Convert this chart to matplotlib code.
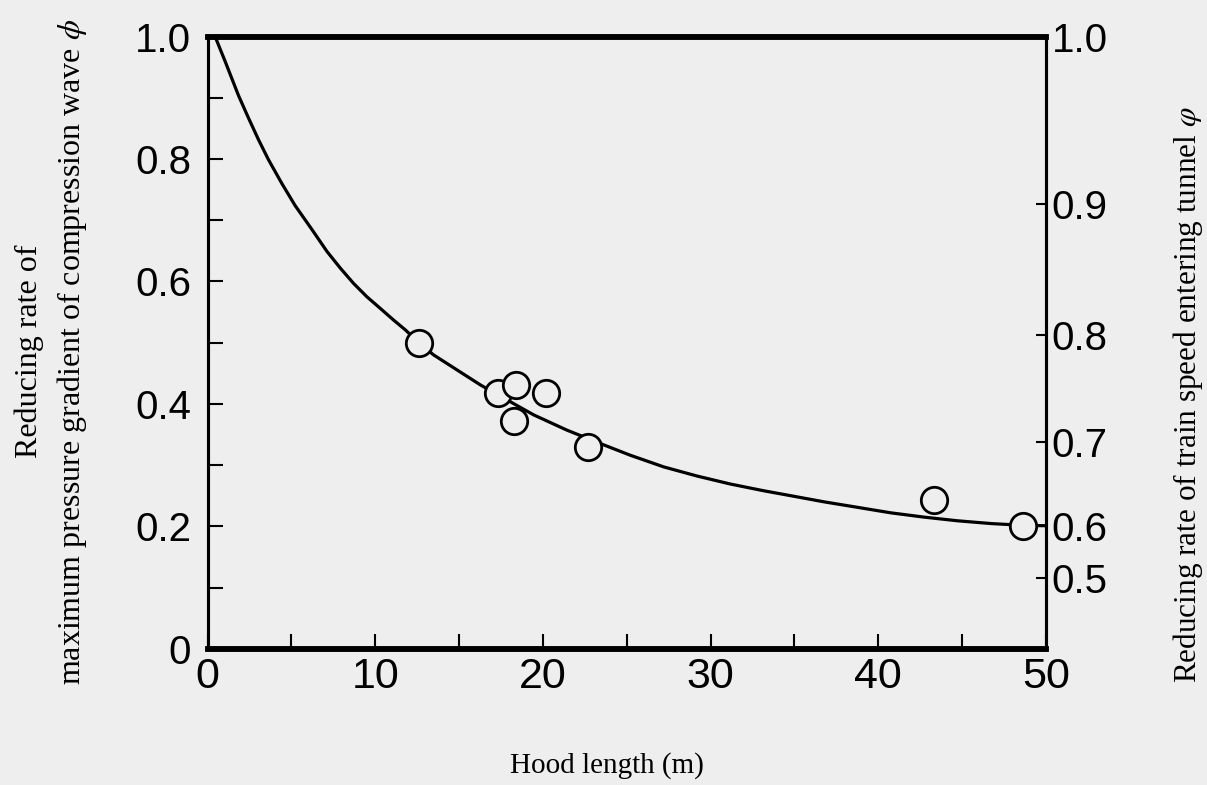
# reducing rate vs hood length, with the train-speed scale on the right
import numpy as np
import matplotlib.pyplot as plt

plt.rcParams['mathtext.fontset'] = 'stix'

# measured points (hood length m, reducing rate phi)
hood_len = [12.6, 17.3, 18.4, 18.3, 20.2, 22.7, 43.3, 48.6]
phi_pts = [0.500, 0.417, 0.431, 0.372, 0.418, 0.330, 0.243, 0.201]

# fitted curve
curve_x = [0.45, 1.04, 1.44, 1.84, 2.44, 3.03, 3.63, 4.43, 5.22, 6.22, 7.12,
           7.91, 8.70, 9.50, 10.30, 11.09, 11.79, 12.6, 13.48, 16.27, 19.45,
           21.44, 23.63, 25.22, 27.21, 29.21, 31.19, 33.18, 34.78, 36.76,
           38.76, 40.75, 42.73, 44.73, 46.72, 48.69, 50.0]
curve_y = [1.0, 0.960, 0.932, 0.904, 0.867, 0.832, 0.799, 0.760, 0.724, 0.685,
           0.649, 0.622, 0.597, 0.575, 0.556, 0.537, 0.521, 0.500, 0.480,
           0.431, 0.382, 0.357, 0.333, 0.316, 0.297, 0.282, 0.269, 0.258,
           0.2500, 0.240, 0.231, 0.222, 0.2150, 0.2090, 0.2045, 0.2015, 0.201]

# right hand scale: speed ratio labels and where they sit on the left scale
speed_labels = ['1.0', '0.9', '0.8', '0.7', '0.6', '0.5']
speed_pos = [1.0, 0.726, 0.513, 0.338, 0.201, 0.115]

bg = '#eeeeee'
fig = plt.figure(figsize=(12.07, 7.85), dpi=100, facecolor=bg)
ax = fig.add_axes([0.172, 0.1736, 0.6946, 0.7797])
ax.set_facecolor(bg)

ax.plot(curve_x, curve_y, color='black', lw=2.3, zorder=2,
        solid_joinstyle='round', clip_on=False)
ax.plot(hood_len, phi_pts, 'o', ms=19, mfc=bg, mec='black', mew=2.0,
        zorder=3, clip_on=False)

ax.set_xlim(0, 50)
ax.set_ylim(0, 1.0)
ax.set_xticks([0, 10, 20, 30, 40, 50])
ax.set_xticks(np.arange(0, 51, 5), minor=True)
ax.set_yticks([0, 0.2, 0.4, 0.6, 0.8, 1.0])
ax.set_yticklabels(['0', '0.2', '0.4', '0.6', '0.8', '1.0'])
ax.set_yticks(np.arange(0, 1.01, 0.1), minor=True)
ax.set_xticklabels(['0', '10', '20', '30', '40', '50'])

ax.tick_params(which='both', direction='in', width=1.5, top=False, right=False)
ax.tick_params(axis='y', which='both', length=11, pad=12)
ax.tick_params(axis='x', which='both', length=11, pad=6)
for lab in ax.get_yticklabels():
    lab.set_family('Liberation Sans')
    lab.set_fontsize(29)
for lab in ax.get_xticklabels():
    lab.set_family('Liberation Sans')
    lab.set_fontsize(31)

ax2 = ax.twinx()
ax2.set_ylim(0, 1.0)
ax2.set_yticks(speed_pos)
ax2.set_yticklabels(speed_labels)
ax2.tick_params(direction='in', length=7, width=1.5, pad=4)
for lab in ax2.get_yticklabels():
    lab.set_family('Liberation Sans')
    lab.set_fontsize(29)

for a in (ax, ax2):
    a.spines['top'].set_linewidth(4)
    a.spines['bottom'].set_linewidth(4)
    a.spines['left'].set_linewidth(2.2)
    a.spines['right'].set_linewidth(2.2)

fig.text(0.043, 0.552, 'Reducing rate of\nmaximum pressure gradient of compression wave $\\phi$',
         rotation=90, ha='center', va='center', multialignment='center',
         family='Liberation Serif', fontsize=23, linespacing=1.45)
fig.text(0.984, 0.497, 'Reducing rate of train speed entering tunnel $\\varphi$',
         rotation=90, ha='center', va='center', family='Liberation Serif',
         fontsize=22.5)
fig.text(0.503, 0.025, 'Hood length (m)', ha='center', va='center',
         family='Liberation Serif', fontsize=21)

fig.savefig('out.png', dpi=100, facecolor=bg)
